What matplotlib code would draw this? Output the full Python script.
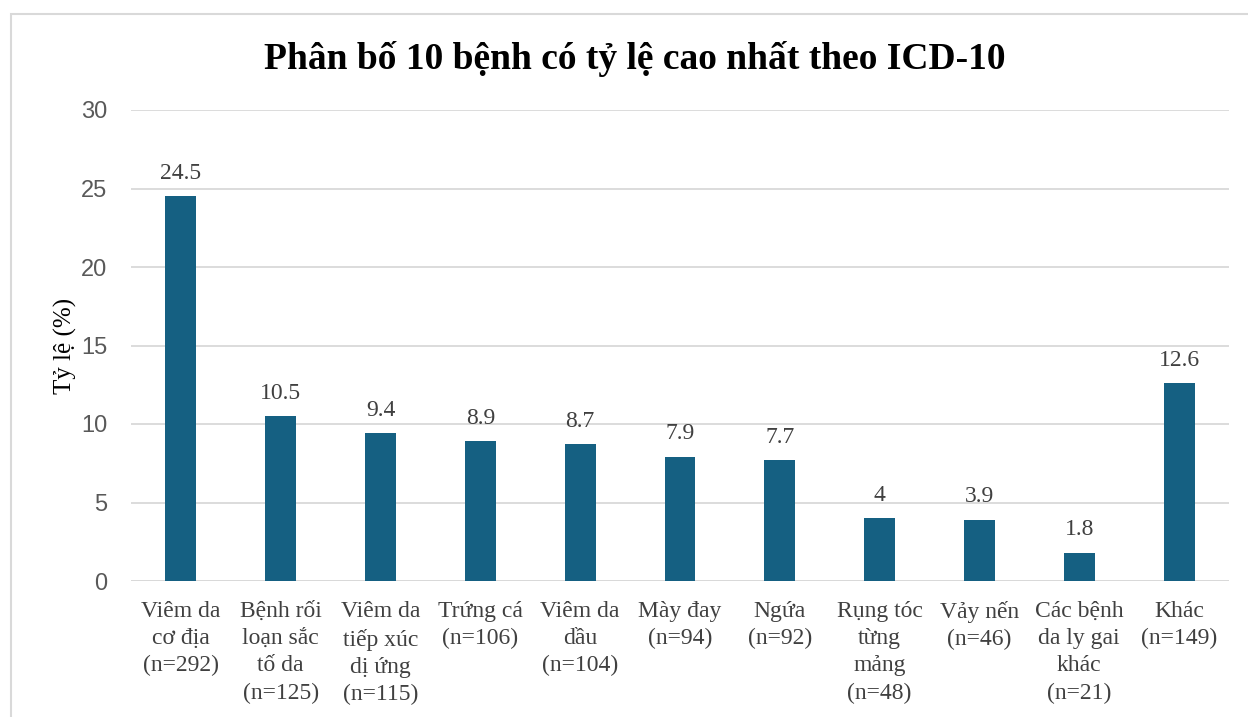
import matplotlib
matplotlib.use("Agg")
import matplotlib.pyplot as plt
from matplotlib.patches import Rectangle

categories = [
    "Viêm da\ncơ địa\n(n=292)",
    "Bệnh rối\nloạn sắc\ntố da\n(n=125)",
    "Viêm da\ntiếp xúc\ndị ứng\n(n=115)",
    "Trứng cá\n(n=106)",
    "Viêm da\ndầu\n(n=104)",
    "Mày đay\n(n=94)",
    "Ngứa\n(n=92)",
    "Rụng tóc\ntừng\nmảng\n(n=48)",
    "Vảy nến\n(n=46)",
    "Các bệnh\nda ly gai\nkhác\n(n=21)",
    "Khác\n(n=149)",
]
values = [24.5, 10.5, 9.4, 8.9, 8.7, 7.9, 7.7, 4, 3.9, 1.8, 12.6]
value_labels = ["24.5", "10.5", "9.4", "8.9", "8.7", "7.9", "7.7", "4", "3.9", "1.8", "12.6"]
yticks = [0, 5, 10, 15, 20, 25, 30]

serif = ["Liberation Serif", "DejaVu Serif"]
sans = ["Liberation Sans", "DejaVu Sans"]

fig = plt.figure(figsize=(12.48, 7.17), dpi=100)
ax = fig.add_axes([131/1248, 1-581/717, (1229-131)/1248, (581-110)/717])

x = list(range(len(categories)))
bars = ax.bar(x, values, width=0.31, color="#156082", zorder=3)
ax.set_xlim(-0.5, len(categories) - 0.5)
ax.set_ylim(0, 30)
ax.set_yticks(yticks)
ax.set_yticklabels([str(t) for t in yticks], fontfamily=sans, fontsize=17, color="#595959")
ax.yaxis.grid(True, color="#d9d9d9", linewidth=1.3, zorder=0)
ax.tick_params(axis="y", length=0, pad=17)
ax.tick_params(axis="x", length=0, pad=14.5)
ax.set_xticks(x)
ax.set_xticklabels(categories, fontfamily=serif, fontsize=17, color="#404040",
                   linespacing=1.38, va="top", ha="center")
for s in ax.spines.values():
    s.set_visible(False)
ax.axhline(0, color="#d9d9d9", linewidth=1.3, zorder=2)

for xi, v, lab in zip(x, values, value_labels):
    ax.annotate(lab, (xi, v), xytext=(0, 9), textcoords="offset points",
                ha="center", va="bottom", fontfamily=serif, fontsize=17, color="#404040")

ax.set_ylabel("Tỷ lệ (%)", fontfamily=serif, fontsize=18, color="black", labelpad=3)

fig.text(635/1248, 1-59/717, "Phân bố 10 bệnh có tỷ lệ cao nhất theo ICD-10",
         ha="center", va="center", fontfamily=serif, fontsize=27, fontweight="bold", color="black")

# outer chart frame
fig.patches.append(Rectangle((11/1248, -0.05), 1.2, 1-14/717+0.05, transform=fig.transFigure,
                             fill=False, edgecolor="#d9d9d9", linewidth=1.5))

fig.savefig("out.png", dpi=100)
